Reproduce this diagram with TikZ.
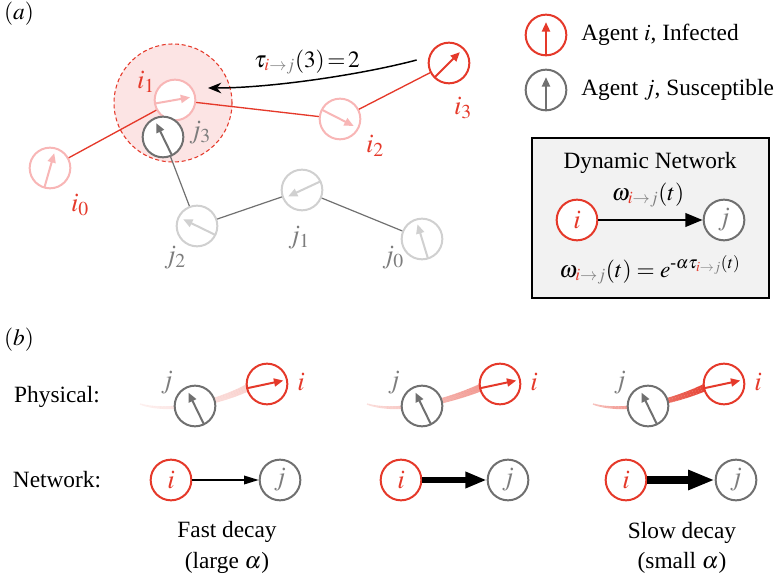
\documentclass[tikz,border=0pt]{standalone}
\usepackage{amsmath}
\usepackage{mathptmx}
\usepackage{fontspec}
\setmainfont{Liberation Serif}
\usetikzlibrary{arrows.meta,calc}
\definecolor{infred}{RGB}{229,57,42}
\definecolor{palered}{RGB}{248,182,182}
\definecolor{susgray}{RGB}{112,112,112}
\definecolor{palegray}{RGB}{208,208,208}
\definecolor{lblgray}{RGB}{125,125,125}
\definecolor{haloshade}{RGB}{252,228,228}
\definecolor{boxgray}{RGB}{242,242,242}

\begin{document}
\begin{tikzpicture}[x=0.75pt,y=0.75pt,yscale=-1,xscale=1,
  agent/.style={circle,draw,fill=white,line width=1.5pt,minimum size=30.5pt,inner sep=0pt,font=\fontsize{20}{24}\selectfont},
  spin/.style={line width=1.5pt,-{Triangle[length=7pt,width=6pt]}},
  lbl/.style={inner sep=0.75pt,font=\fontsize{20}{24}\selectfont},
  txt/.style={inner sep=0.75pt,font=\fontsize{17.5}{21}\selectfont}]
\useasboundingbox (0,0) rectangle (777,580);

% Text Node
\draw (19,14) node [txt] (pa) {$(a)$};
%Shape: Circle (infection range)
\draw [infred, fill=haloshade, line width=0.8pt, dash pattern=on 3pt off 2pt] (173,103) circle [radius=59];

%Shape: Circle (agents)
\node [agent, draw=palered] (i0) at (50,168) {};
\node [agent, draw=palered] (i1) at (175,100) {};
\node [agent, draw=palered] (i2) at (340,119) {};
\node [agent, draw=infred] (i3) at (449,63) {};
\node [agent, draw=susgray] (j3) at (163,137) {};
\node [agent, draw=palegray] (j2) at (197,226) {};
\node [agent, draw=palegray] (j1) at (302,190) {};
\node [agent, draw=palegray] (j0) at (422,239) {};

%Straight Lines
\draw [infred, line width=1pt] (i0) -- (i1) -- (i2) -- (i3);
\draw [susgray, line width=0.9pt] (j3) -- (j2) -- (j1) -- (j0);

%Heading arrows
\foreach \n/\a/\c in {i0/74/palered, i1/10/palered, i2/333/palered, i3/45/infred,
  j3/116/susgray, j2/154/palegray, j1/205/palegray, j0/107/palegray}
  \draw [spin, \c] ($(\n.center)!-0.95!(\n.\a)$) -- ($(\n.center)!0.72!(\n.\a)$);

% Text Node
\draw (80,205) node [lbl, text=infred] (li0) {$i_0$};
\draw (146,82) node [lbl, text=infred] (li1) {$i_1$};
\draw (375,146) node [lbl, text=infred] (li2) {$i_2$};
\draw (463,108) node [lbl, text=infred] (li3) {$i_3$};
\draw (200,133) node [lbl, text=lblgray] (lj3) {$j_3$};
\draw (175,258) node [lbl, text=lblgray] (lj2) {$j_2$};
\draw (299,238) node [lbl, text=lblgray] (lj1) {$j_1$};
\draw (393,258) node [lbl, text=lblgray] (lj0) {$j_0$};

%Curve Lines
\coordinate (tauhead) at (208,88);
\draw [line width=1.1pt, -{Stealth[length=10pt,width=8pt]}] ($(i3.west)+(-11,-3)$) .. controls (360,75) and (270,88) .. (tauhead);
% Text Node
\draw (307,62) node [txt] (ltau) {$\tau_{\textcolor{infred}{i}\textcolor{lblgray}{\rightarrow j}}(3)\!=\!2$};

%Legend
\node [agent, draw=infred] (legi) at (546,35) {};
\node [agent, draw=susgray] (legj) at (546,90) {};
\draw [spin, infred] ($(legi.center)!-0.95!(legi.90)$) -- ($(legi.center)!0.6!(legi.90)$);
\draw [spin, susgray] ($(legj.center)!-0.95!(legj.90)$) -- ($(legj.center)!0.6!(legj.90)$);
\draw (580,35) node [txt, anchor=west] (tlegi) {Agent $i$, Infected};
\draw (580,90) node [txt, anchor=west] (tlegj) {Agent $j$, Susceptible};

%Shape: Rectangle (dynamic network)
\draw [fill=boxgray, line width=1.1pt] (532,138) rectangle (769,298);
\draw (650,163) node [txt] (tdyn) {Dynamic Network};
\node [agent, draw=infred, text=infred] (bi) at (577,220) {$i$};
\node [agent, draw=susgray, text=lblgray] (bj) at (724,220) {$j$};
\draw [line width=2.2pt, -{Triangle[length=13pt,width=10pt]}] (bi) -- (bj);
\draw (648,195) node [txt] (tw) {$\omega_{\textcolor{infred}{i}\textcolor{lblgray}{\rightarrow j}}(t)$};
\draw (650,270) node [txt] (tweq) {$\omega_{\textcolor{infred}{i}\textcolor{lblgray}{\rightarrow j}}(t) = e^{\text{-}\alpha\tau_{\textcolor{infred}{i}\textcolor{lblgray}{\rightarrow j}}(t)}$};

% Text Node
\draw (19,340) node [txt] (pb) {$(b)$};
\draw (57,397) node [txt] (tphys) {Physical:};
\draw (57,480) node [txt] (tnet) {Network:};

%Panels: trail, physical agents, network edge
\foreach \n/\jx/\ix/\nix/\njx/\lw/\tl/\tw/\op in {1/195/267/171/280/1/11/6.5/0.22,
  2/422/500/401/508/4/16/11.5/0.5, 3/648/724/626/736/6/20/14/0.95}{
  \foreach \k in {0,...,39}{
    \pgfmathsetmacro\ta{\k/40}
    \pgfmathsetmacro\tb{(\k+1)/40}
    \pgfmathsetmacro\sego{\op*(0.3+0.7*\tb)}
    \pgfmathsetmacro\segw{1+4.5*\tb}
    \path (\jx-55,404) .. controls (\jx-25,414) and (\jx+25,402) .. (\ix-18,387)
      coordinate [pos=\ta] (ta) coordinate [pos=\tb] (tb);
    \draw [infred, opacity=\sego, line width=\segw pt] (ta) -- (tb);
  }
  \node [agent, draw=susgray] (pj\n) at (\jx,406) {};
  \node [agent, draw=infred] (pi\n) at (\ix,384) {};
  \draw [spin, susgray] ($(pj\n.center)!-0.95!(pj\n.116)$) -- ($(pj\n.center)!0.7!(pj\n.116)$);
  \draw [spin, infred] ($(pi\n.center)!-0.95!(pi\n.12)$) -- ($(pi\n.center)!0.78!(pi\n.12)$);
  \draw (\jx-28,383) node [lbl, text=lblgray] (lpj\n) {$j$};
  \draw (\ix+34,382) node [lbl, text=infred] (lpi\n) {$i$};
  \node [agent, draw=infred, text=infred] (ni\n) at (\nix,480) {$i$};
  \node [agent, draw=susgray, text=lblgray] (nj\n) at (\njx,480) {$j$};
  \draw [line width=\lw pt, -{Triangle[length=\tl pt,width=\tw pt]}] (ni\n) -- (nj\n);
}

% Text Node
\draw (227,532) node [txt] (tfast) {Fast decay};
\draw (227,563) node [txt] (tlarge) {(large $\alpha$)};
\draw (682,533) node [txt] (tslow) {Slow decay};
\draw (682,563) node [txt] (tsmall) {(small $\alpha$)};
\end{tikzpicture}
\end{document}
